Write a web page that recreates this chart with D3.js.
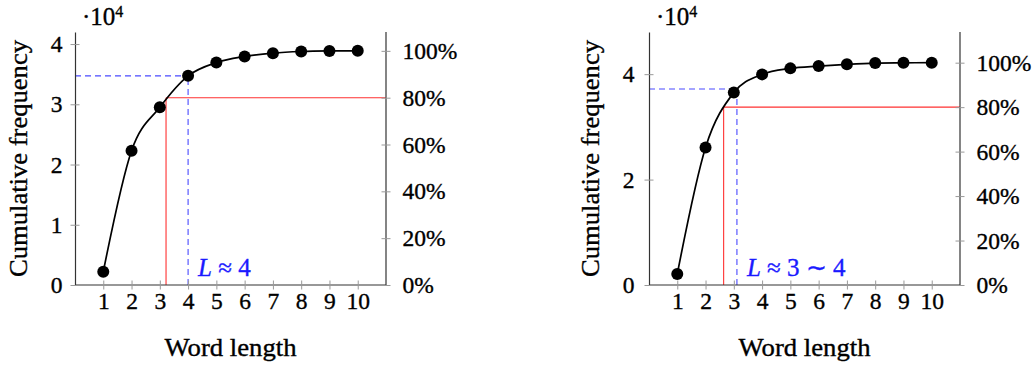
<!DOCTYPE html>
<html><head><meta charset="utf-8">
<script src="https://cdn.jsdelivr.net/npm/d3@7"></script>
<style>
body{margin:0;background:#fff}
svg{display:block}
</style>
</head><body>
<svg id="c" width="1035" height="367"></svg>
<script>
// ---- data ----
const wordLengths = [1, 2, 3, 4, 5, 6, 7, 8, 9, 10];
const cumFreqLeft = [2200, 22300, 29500, 34720, 36930, 37930, 38490, 38760, 38860, 38870];
const cumFreqRight = [2080, 26100, 36500, 39960, 41100, 41530, 41860, 42100, 42150, 42180];
const xTicks = [1, 2, 3, 4, 5, 6, 7, 8, 9, 10];
const yTicksLeft = [0, 1, 2, 3, 4];      // in units of 10^4
const yTicksRight = [0, 2, 4];           // in units of 10^4
const pctTicks = [0, 20, 40, 60, 80, 100];
const cut80 = [3.22, 2.64];              // x where curve reaches 80%
const markX = [4, 3.11];                 // blue marker x
const markY = [34720, 37200];            // blue marker y
const markLabelTail = [" ≈ 4", " ≈ 3 ∼ 4"];
const xLabel = "Word length";
const yLabel = "Cumulative frequency";

const svg = d3.select("#c").style("font-family", '"Liberation Serif"');
const FONT = '"Liberation Serif"';

function thicken(sel, color) {
  sel.style("stroke", color || "#000").style("stroke-width", "0.35px");
}

function panel(opt) {
  const data = wordLengths.map((w, i) => ({x: w, y: opt.values[i]}));
  const total = opt.values[opt.values.length - 1];
  const x = d3.scaleLinear().domain([0, 11]).range([opt.x0, opt.x1]);
  const y = d3.scaleLinear().domain([0, opt.yMax]).range([285, 32]);
  const p = d3.scaleLinear().domain([0, 100]).range([y(0), y(total)]);
  const g = svg.append("g");

  function styleAxis(a, dir) {
    a.attr("font-family", null).attr("font-size", null);
    a.select(".domain").attr("stroke", "#333").attr("stroke-width", 1.2);
    a.selectAll(".tick line").attr("stroke", "#999").attr("stroke-width", 1);
    if (dir === "x") a.selectAll(".tick line").attr("y1", -4.5).attr("y2", 4.5);
    else a.selectAll(".tick line").attr("x1", -4.5).attr("x2", 4.5);
    const tt = a.selectAll(".tick text").style("font-family", FONT).style("font-size", "23.5px").attr("fill", "#000");
    thicken(tt);
  }

  // reference lines (under curve)
  const cx = cut80[opt.i];
  g.append("line").attr("x1", x(cx)).attr("x2", x(cx)).attr("y1", y(0)).attr("y2", p(80))
    .attr("stroke", "#ff3030").attr("stroke-width", 1.1);
  g.append("line").attr("x1", x(cx)).attr("x2", opt.x1).attr("y1", p(80)).attr("y2", p(80))
    .attr("stroke", "#ff3030").attr("stroke-width", 1.1);
  const mx = markX[opt.i], my = markY[opt.i];
  g.append("line").attr("x1", x(mx)).attr("x2", x(mx)).attr("y1", y(0)).attr("y2", y(my))
    .attr("stroke", "#4a4aff").attr("stroke-width", 1.1).attr("stroke-dasharray", "6,4");
  g.append("line").attr("x1", opt.x0).attr("x2", x(mx)).attr("y1", y(my)).attr("y2", y(my))
    .attr("stroke", "#4a4aff").attr("stroke-width", 1.1).attr("stroke-dasharray", "6,4");

  // axes
  const ax = g.append("g").attr("transform", `translate(0,${y(0)})`)
    .call(d3.axisBottom(x).tickValues(xTicks).tickSizeInner(4.5).tickSizeOuter(0).tickPadding(3));
  styleAxis(ax, "x");
  const ayl = g.append("g").attr("transform", `translate(${opt.x0},0)`)
    .call(d3.axisLeft(y).tickValues(opt.yTicks.map(v => v * 1e4)).tickFormat(v => v / 1e4)
      .tickSizeInner(4.5).tickSizeOuter(0).tickPadding(opt.padL));
  styleAxis(ayl, "y");
  const ayr = g.append("g").attr("transform", `translate(${opt.x1},0)`)
    .call(d3.axisRight(p).tickValues(pctTicks).tickFormat(v => v + "%")
      .tickSizeInner(4.5).tickSizeOuter(0).tickPadding(12));
  styleAxis(ayr, "y");
  ayr.select(".domain").attr("d", `M0,${y(0)}V32`);
  ax.select(".domain").attr("d", `M${opt.x0},0H${opt.x1}`);

  // curve
  const line = d3.line().x(d => x(d.x)).y(d => y(d.y)).curve(d3.curveCardinal);
  g.append("path").datum(data).attr("d", line).attr("fill", "none")
    .attr("stroke", "#000").attr("stroke-width", 1.7);
  g.selectAll("circle.pt").data(data).join("circle").attr("class", "pt")
    .attr("cx", d => x(d.x)).attr("cy", d => y(d.y)).attr("r", 6).attr("fill", "#000");

  // marker label
  const t = g.append("text").attr("x", x(mx) + 10).attr("y", 276)
    .style("font-family", FONT).style("font-size", "25px").style("fill", "#1a1aff");
  thicken(t, "#1a1aff");
  t.append("tspan").style("font-style", "italic").text("L");
  t.append("tspan").text(markLabelTail[opt.i]);

  // multiplier
  const m = g.append("text").attr("x", opt.x0 + 7).attr("y", 25)
    .style("font-family", FONT).style("font-size", "25px");
  thicken(m);
  m.append("tspan").text("·10");
  m.append("tspan").attr("dy", -8).style("font-size", "16px").text("4");

  // axis labels
  thicken(g.append("text").attr("x", (opt.x0 + opt.x1) / 2).attr("y", 356).attr("text-anchor", "middle")
    .style("font-family", FONT).style("font-size", "25px")
    .attr("textLength", 132).attr("lengthAdjust", "spacingAndGlyphs").text(xLabel));
  thicken(g.append("text").attr("transform", `translate(${opt.ylabX},158.5) rotate(-90)`).attr("text-anchor", "middle")
    .style("font-family", FONT).style("font-size", "25px")
    .attr("textLength", 237).attr("lengthAdjust", "spacingAndGlyphs").text(yLabel));
}

panel({i: 0, values: cumFreqLeft, x0: 75, x1: 386, yMax: 42000, yTicks: yTicksLeft, padL: 8, ylabX: 27});
panel({i: 1, values: cumFreqRight, x0: 649, x1: 960, yMax: 48000, yTicks: yTicksRight, padL: 10, ylabX: 599});
</script>
</body></html>
